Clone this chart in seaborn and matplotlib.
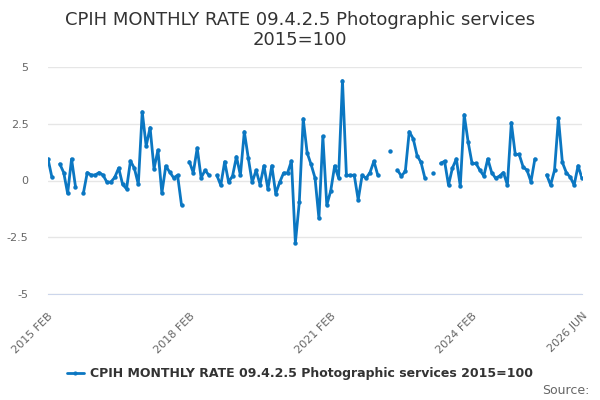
import numpy as np
import pandas as pd
import matplotlib
matplotlib.use('Agg')
import matplotlib.pyplot as plt
from matplotlib.lines import Line2D
import seaborn as sns

# monthly rate, Feb 2015 .. Jun 2026 (NaN = no value published)
values = [
    0.95, 0.14, np.nan, 0.73, 0.35, -0.57, 0.95, -0.27, np.nan, -0.57,
    0.35, 0.24, 0.24, 0.35, 0.24, -0.07, -0.07, 0.14, 0.55, -0.17,
    -0.37, 0.86, 0.54, -0.17, 3.03, 1.52, 2.33, 0.52, 1.34, -0.56,
    0.64, 0.37, 0.12, 0.23, -1.08, np.nan, 0.83, 0.34, 1.43, 0.12,
    0.45, 0.23, np.nan, 0.23, -0.21, 0.83, -0.07, 0.2, 1.05, 0.23,
    2.15, 1.0, -0.08, 0.45, -0.18, 0.65, -0.37, 0.65, -0.58, -0.08,
    0.33, 0.33, 0.86, -2.75, -0.96, 2.72, 1.22, 0.71, 0.12, -1.67,
    1.95, -1.08, -0.46, 0.64, 0.12, 4.4, 0.23, 0.23, 0.23, -0.85,
    0.23, 0.1, 0.35, 0.85, 0.23, np.nan, np.nan, 1.3, np.nan, 0.45,
    0.2, 0.4, 2.15, 1.85, 1.1, 0.8, 0.1, np.nan, 0.35, np.nan,
    0.75, 0.85, -0.2, 0.55, 0.95, -0.25, 2.9, 1.7, 0.75, 0.75,
    0.45, 0.2, 0.95, 0.35, 0.1, 0.2, 0.35, -0.2, 2.55, 1.15,
    1.15, 0.6, 0.45, -0.05, 0.95, np.nan, np.nan, 0.25, -0.2, 0.45,
    2.75, 0.8, 0.35, 0.15, -0.2, 0.65, 0.1,
]
start_year, start_month = 2015, 2
series_name = 'CPIH MONTHLY RATE 09.4.2.5 Photographic services 2015=100'
title = 'CPIH MONTHLY RATE 09.4.2.5 Photographic services\n2015=100'
y_ticks = [-5, -2.5, 0, 2.5, 5]
y_tick_labels = ['-5', '-2.5', '0', '2.5', '5']
labelled_months = [0, 36, 72, 108, 136]

months = ['JAN', 'FEB', 'MAR', 'APR', 'MAY', 'JUN', 'JUL', 'AUG', 'SEP', 'OCT', 'NOV', 'DEC']

def month_label(i):
    m = start_month - 1 + i
    return f'{start_year + m // 12} {months[m % 12]}'

df = pd.DataFrame({'t': np.arange(len(values)), 'v': values})
# split into runs so missing months leave gaps
df['seg'] = df['v'].isna().cumsum()
df = df.dropna()

blue = '#0b77c2'
sns.set_style('white')
plt.rcParams['font.family'] = ['DejaVu Sans']

fig = plt.figure(figsize=(6, 4), dpi=100)
ax = fig.add_axes([0.08, 0.265, 0.89, 0.5675])

sns.lineplot(data=df, x='t', y='v', units='seg', estimator=None, color=blue,
             linewidth=2, marker='o', markersize=3.2, markeredgewidth=0, ax=ax)

n = len(values)
ax.set_xlim(0, n - 1)
ax.set_ylim(-5, 5)
ax.set_yticks(y_ticks)
ax.set_yticklabels(y_tick_labels)
ax.grid(axis='y', color='#e6e6e6', linewidth=1)
ax.set_axisbelow(True)

ticks = list(range(0, n - 1, 9)) + [n - 1]
ax.set_xticks(ticks)
ax.set_xticklabels([month_label(t) if t in labelled_months else '' for t in ticks],
                   rotation=45, ha='right', rotation_mode='anchor')

for s in ['left', 'right', 'top']:
    ax.spines[s].set_visible(False)
ax.spines['bottom'].set_color('#ccd6eb')
ax.tick_params(axis='x', colors='#ccd6eb', length=9, width=1, direction='out', pad=3)
ax.tick_params(axis='y', length=0, pad=14)
for lab in ax.get_xticklabels() + ax.get_yticklabels():
    lab.set_color('#666666')
    lab.set_fontsize(8)
ax.set_xlabel('')
ax.set_ylabel('')

fig.suptitle(title, y=0.972, fontsize=13, color='#333333', linespacing=1.15)

handle = Line2D([], [], color=blue, linewidth=2, marker='o', markersize=3, markeredgewidth=0)
fig.legend([handle], [series_name], loc='center', bbox_to_anchor=(0.5, 0.065),
           frameon=False, handlelength=1.4, handletextpad=0.5,
           prop={'weight': 'bold', 'size': 9}, labelcolor='#333333')

fig.text(0.982, 0.008, 'Source:', ha='right', va='bottom', fontsize=9, color='#666666')

fig.savefig('out.png', dpi=100)
